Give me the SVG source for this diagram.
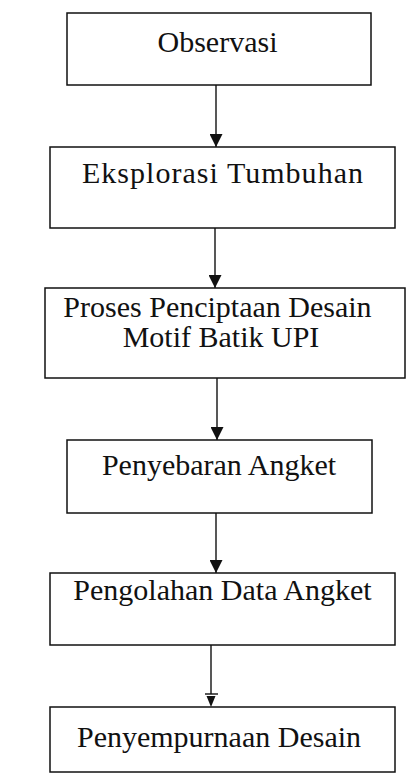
<svg xmlns="http://www.w3.org/2000/svg" width="415" height="774" viewBox="0 0 415 774">
<defs>
<style>
.box{fill:#fff;stroke:#111;stroke-width:1.5}
.t{font-family:"Liberation Serif","Times New Roman",serif;font-size:30px;fill:#111;text-anchor:middle}
.ln{stroke:#111;stroke-width:1.4;fill:none}
</style>
<marker id="ah" markerWidth="13" markerHeight="13" refX="13" refY="6.5" orient="auto" markerUnits="userSpaceOnUse" viewBox="0 0 13 13">
<path d="M0,0 L13,6.5 L0,13 Z" fill="#111"/>
</marker>
</defs>
<rect width="415" height="774" fill="#fff"/>
<g id="connectors">
<line class="ln" x1="216" y1="85" x2="216" y2="147" marker-end="url(#ah)"/>
<line class="ln" x1="215" y1="228" x2="215" y2="288" marker-end="url(#ah)"/>
<line class="ln" x1="217" y1="378" x2="217" y2="440" marker-end="url(#ah)"/>
<line class="ln" x1="216" y1="513" x2="216" y2="573" marker-end="url(#ah)"/>
<line class="ln" x1="211" y1="645" x2="211" y2="694"/>
<line class="ln" x1="205" y1="694" x2="218" y2="694"/>
<path d="M206.5,696 L215.5,696 L211,707 Z" fill="#111"/>
</g>
<g id="n1"><rect class="box" x="67" y="13" width="304" height="72"/><text class="t" x="217.5" y="52">Observasi</text></g>
<g id="n2"><rect class="box" x="50" y="147" width="345" height="81"/><text class="t" x="222.5" y="183" textLength="281" lengthAdjust="spacing">Eksplorasi Tumbuhan</text></g>
<g id="n3"><rect class="box" x="45" y="288" width="360" height="90"/><text class="t" x="217.5" y="317">Proses Penciptaan Desain</text><text class="t" x="221" y="347">Motif Batik UPI</text></g>
<g id="n4"><rect class="box" x="67" y="440" width="305" height="73"/><text class="t" x="219" y="475">Penyebaran Angket</text></g>
<g id="n5"><rect class="box" x="50" y="573" width="345" height="72"/><text class="t" x="222.5" y="600">Pengolahan Data Angket</text></g>
<g id="n6"><rect class="box" x="50" y="707" width="345" height="65"/><text class="t" x="219" y="747">Penyempurnaan Desain</text></g>
</svg>
